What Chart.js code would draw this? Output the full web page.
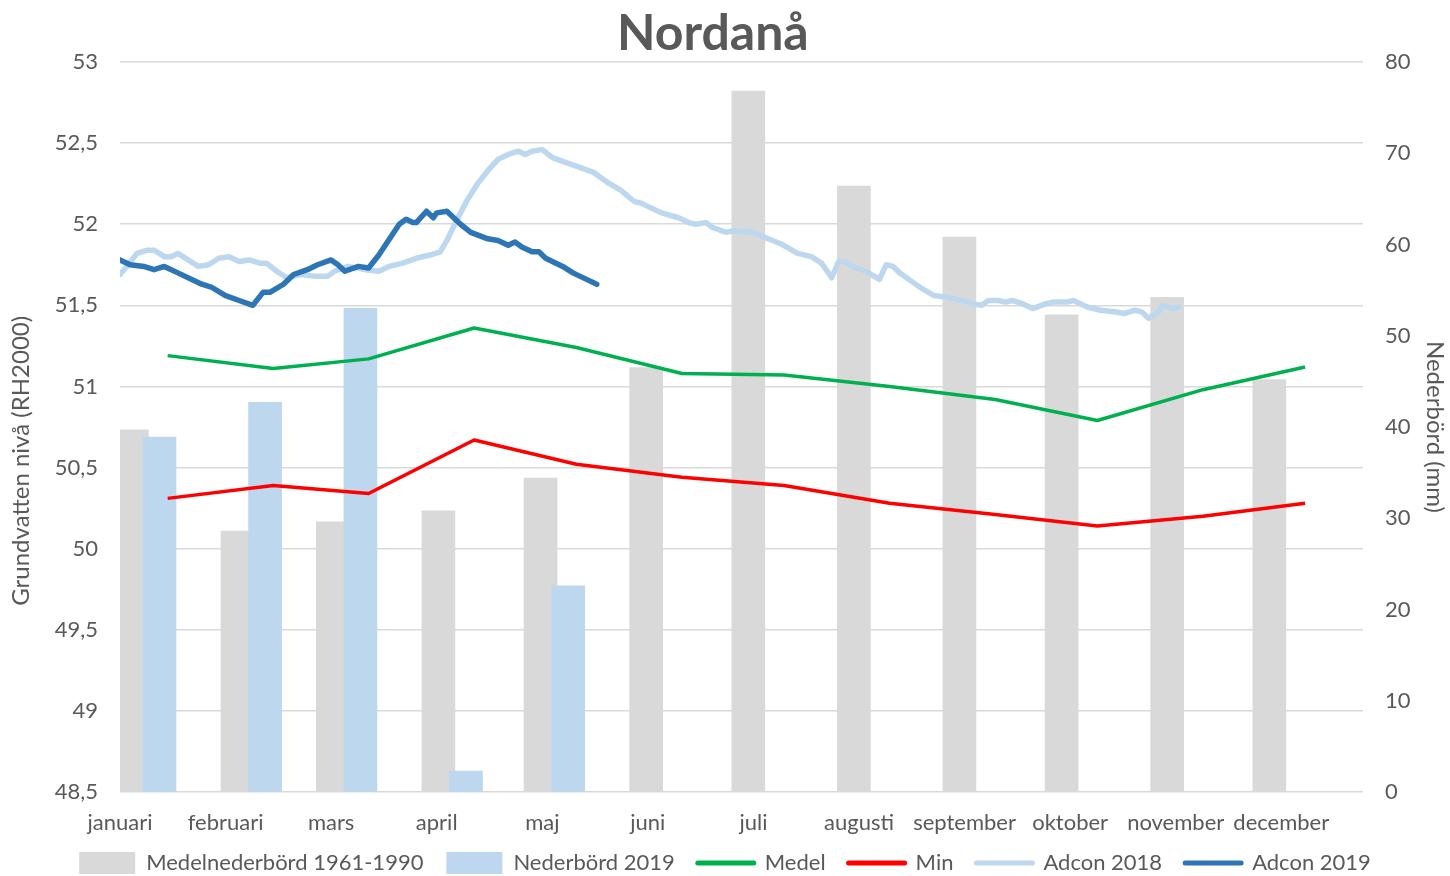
<!DOCTYPE html>
<html>
<head>
<meta charset="utf-8">
<script src="https://cdn.jsdelivr.net/npm/chart.js@4.4.1/dist/chart.umd.min.js"></script>
<style>
html,body{margin:0;padding:0;background:#fff;}
#wrap{width:1450px;height:876px;position:relative;}
</style>
</head>
<body>
<div id="wrap"><canvas id="c" width="1450" height="876"></canvas></div>
<script>
// ---------- data ----------
const chartTitle = 'Nordanå';
const monthLabels = ['januari','februari','mars','april','maj','juni','juli','augusti','september','oktober','november','december'];

// precipitation (mm), right axis
const medelNederbord = [39.7, 28.6, 29.6, 30.8, 34.4, 46.5, 76.8, 66.4, 60.8, 52.3, 54.2, 45.2];
const nederbord2019  = [38.9, 42.7, 53.0, 2.3, 22.6];

// groundwater level (m, RH2000), monthly, left axis
const medelNiva = [51.19, 51.11, 51.17, 51.36, 51.24, 51.08, 51.07, 51.00, 50.92, 50.79, 50.98, 51.12];
const minNiva   = [50.31, 50.39, 50.34, 50.67, 50.52, 50.44, 50.39, 50.28, 50.21, 50.14, 50.20, 50.28];

// Adcon loggers: day of year and level
const adcon2018Days = [
  0,2,5,8,10,13,15,17,20,23,
  26,29,32,35,38,41,43,46,49,53,
  57,61,63,67,72,76,79,83,87,91,
  94,96,99,102,105,108,111,114,117,119,
  121,124,127,131,135,139,143,147,151,153,
  159,164,167,169,172,174,178,180,186,188,
  194,199,203,206,209,211,213,215,219,223,
  225,227,229,233,235,239,243,249,250,253,
  255,258,260,262,265,268,272,274,278,280,
  284,288,292,295,298,300,302,305,306,309,
  311];
const adcon2018Values = [
  51.69,51.74,51.82,51.84,51.84,51.80,51.80,51.82,51.78,51.74,
  51.75,51.79,51.80,51.77,51.78,51.76,51.76,51.71,51.67,51.69,
  51.68,51.68,51.71,51.74,51.72,51.71,51.74,51.76,51.79,51.81,
  51.83,51.90,52.03,52.15,52.25,52.33,52.40,52.43,52.45,52.43,
  52.45,52.46,52.41,52.38,52.35,52.32,52.26,52.21,52.14,52.13,
  52.07,52.04,52.01,52.00,52.01,51.98,51.95,51.96,51.95,51.93,
  51.88,51.82,51.80,51.76,51.67,51.77,51.77,51.74,51.71,51.66,
  51.75,51.74,51.70,51.64,51.61,51.56,51.55,51.52,51.51,51.50,
  51.53,51.53,51.52,51.53,51.51,51.48,51.51,51.52,51.52,51.53,
  51.49,51.47,51.46,51.45,51.47,51.46,51.42,51.46,51.50,51.48,
  51.49];

const adcon2019Days = [
  0,3,7,10,13,17,24,27,31,35,
  39,42,44,48,51,55,58,62,64,66,
  70,73,76,82,84,86,87,90,92,93,
  96,100,103,108,111,114,116,118,121,123,
  125,130,133,137,140];
const adcon2019Values = [
  51.78,51.75,51.74,51.72,51.74,51.70,51.63,51.61,51.56,51.53,
  51.50,51.58,51.58,51.63,51.69,51.72,51.75,51.78,51.75,51.71,
  51.74,51.73,51.81,52.00,52.03,52.01,52.01,52.08,52.04,52.07,
  52.08,52.00,51.95,51.91,51.90,51.87,51.89,51.86,51.83,51.83,
  51.79,51.74,51.70,51.66,51.63];

// ---------- helpers ----------
function dayOfYear(m, d) {
  return Math.round((Date.UTC(2019, m, d) - Date.UTC(2019, 0, 1)) / 86400000);
}
const monthStartDays = monthLabels.map((_, m) => dayOfYear(m, 1));
const midMonthDays = monthLabels.map((_, m) => dayOfYear(m, 15));
const tickDays = monthLabels.map((_, i) => i * 31);
const toPts = (xs, ys) => ys.map((v, i) => ({x: xs[i], y: v}));

const FONT = 'Lato';
const TXT = '#595959';
const YEAR_DAYS = 365;

new Chart(document.getElementById('c'), {
  type: 'bar',
  data: {
    datasets: [
      {
        type: 'bar', label: 'Medelnederbörd 1961-1990',
        data: toPts(monthStartDays, medelNederbord),
        backgroundColor: '#D9D9D9', borderWidth: 0, grouped: false, barThickness: 33,
        xAxisID: 'xg', yAxisID: 'y2', order: 10, pointStyle: 'rect'
      },
      {
        type: 'bar', label: 'Nederbörd 2019',
        data: toPts(monthStartDays, nederbord2019),
        backgroundColor: '#BDD7EE', borderWidth: 0, grouped: false, barThickness: 33,
        xAxisID: 'xn', yAxisID: 'y2', order: 9, pointStyle: 'rect'
      },
      {
        type: 'line', label: 'Medel',
        data: toPts(midMonthDays, medelNiva),
        borderColor: '#00B050', backgroundColor: '#00B050', borderWidth: 3.5,
        pointRadius: 0, pointBorderWidth: 4.5, pointStyle: 'line', tension: 0,
        borderJoinStyle: 'round', xAxisID: 'x', yAxisID: 'y', order: 4
      },
      {
        type: 'line', label: 'Min',
        data: toPts(midMonthDays, minNiva),
        borderColor: '#FF0000', backgroundColor: '#FF0000', borderWidth: 3.5,
        pointRadius: 0, pointBorderWidth: 4.5, pointStyle: 'line', tension: 0,
        borderJoinStyle: 'round', xAxisID: 'x', yAxisID: 'y', order: 3
      },
      {
        type: 'line', label: 'Adcon 2018',
        data: toPts(adcon2018Days, adcon2018Values),
        borderColor: '#BDD7EE', backgroundColor: '#BDD7EE', borderWidth: 5.5,
        pointRadius: 0, pointBorderWidth: 5, pointStyle: 'line', tension: 0,
        borderJoinStyle: 'round', borderCapStyle: 'round', xAxisID: 'x', yAxisID: 'y', order: 2
      },
      {
        type: 'line', label: 'Adcon 2019',
        data: toPts(adcon2019Days, adcon2019Values),
        borderColor: '#2E75B6', backgroundColor: '#2E75B6', borderWidth: 5.5,
        pointRadius: 0, pointBorderWidth: 5, pointStyle: 'line', tension: 0,
        borderJoinStyle: 'round', borderCapStyle: 'round', xAxisID: 'x', yAxisID: 'y', order: 1
      }
    ]
  },
  options: {
    responsive: false,
    animation: false,
    devicePixelRatio: 1,
    layout: { padding: 0 },
    plugins: {
      title: {
        display: true, text: chartTitle + '  ', color: TXT,
        font: { family: FONT, size: 50, weight: 'bold', lineHeight: 1.1 },
        padding: { top: 6, bottom: 1 }
      },
      legend: {
        position: 'bottom', align: 'center', maxHeight: 47,
        labels: {
          usePointStyle: true, pointStyleWidth: 56, boxHeight: 22, padding: 23,
          color: TXT, font: { family: FONT, size: 22 },
          sort: (a, b) => a.datasetIndex - b.datasetIndex,
          generateLabels(chart) {
            const items = Chart.defaults.plugins.legend.labels.generateLabels(chart);
            items.forEach(it => {
              const ds = chart.data.datasets[it.datasetIndex];
              if (ds.type === 'line') { it.lineCap = 'round'; it.lineWidth = 5; }
            });
            return items;
          }
        }
      },
      tooltip: { enabled: false }
    },
    scales: {
      x: {
        type: 'linear', position: 'bottom', min: 0, max: YEAR_DAYS, offset: false,
        grid: { display: false, drawTicks: false, offset: false },
        border: { display: false },
        afterBuildTicks: s => { s.ticks = tickDays.map(v => ({ value: v })); },
        afterFit: s => {
          s.height = 37;
          s._computeLabelArea = () => null; // let the month labels extend below the axis box
        },
        ticks: {
          autoSkip: false, maxRotation: 0, minRotation: 0, padding: 18,
          color: TXT, font: { family: FONT, size: 22 },
          callback: v => monthLabels[new Date(2019, 0, 1 + v).getMonth()]
        }
      },
      // hidden axes that place the two bar series beside each other within each month
      xg: {
        type: 'linear', display: false, min: -3.5, max: YEAR_DAYS - 3.5, offset: false,
        grid: { offset: false }
      },
      xn: {
        type: 'linear', display: false, min: -11.6, max: YEAR_DAYS - 11.6, offset: false,
        grid: { offset: false }
      },
      y: {
        position: 'left', min: 48.5, max: 53,
        grid: { color: '#D9D9D9', lineWidth: 1.5, drawTicks: false },
        border: { display: false },
        afterFit: s => { s.width = 120; },
        ticks: {
          stepSize: 0.5, padding: 22, color: TXT, font: { family: FONT, size: 22 },
          callback: v => String(v).replace('.', ',')
        },
        title: {
          display: true, text: 'Grundvatten nivå (RH2000)' + ' '.repeat(11), color: TXT,
          font: { family: FONT, size: 24 }, padding: { top: 7, bottom: 0 }
        }
      },
      y2: {
        position: 'right', min: 0, max: 80, beginAtZero: true,
        grid: { display: false, drawTicks: false },
        border: { display: false },
        afterFit: s => { s.width = 87; },
        ticks: { stepSize: 10, padding: 22, color: TXT, font: { family: FONT, size: 22 } },
        title: {
          display: true, text: 'Nederbörd (mm)', color: TXT,
          font: { family: FONT, size: 24 }, padding: { top: 1, bottom: 0 }
        }
      }
    }
  }
});
</script>
</body>
</html>
